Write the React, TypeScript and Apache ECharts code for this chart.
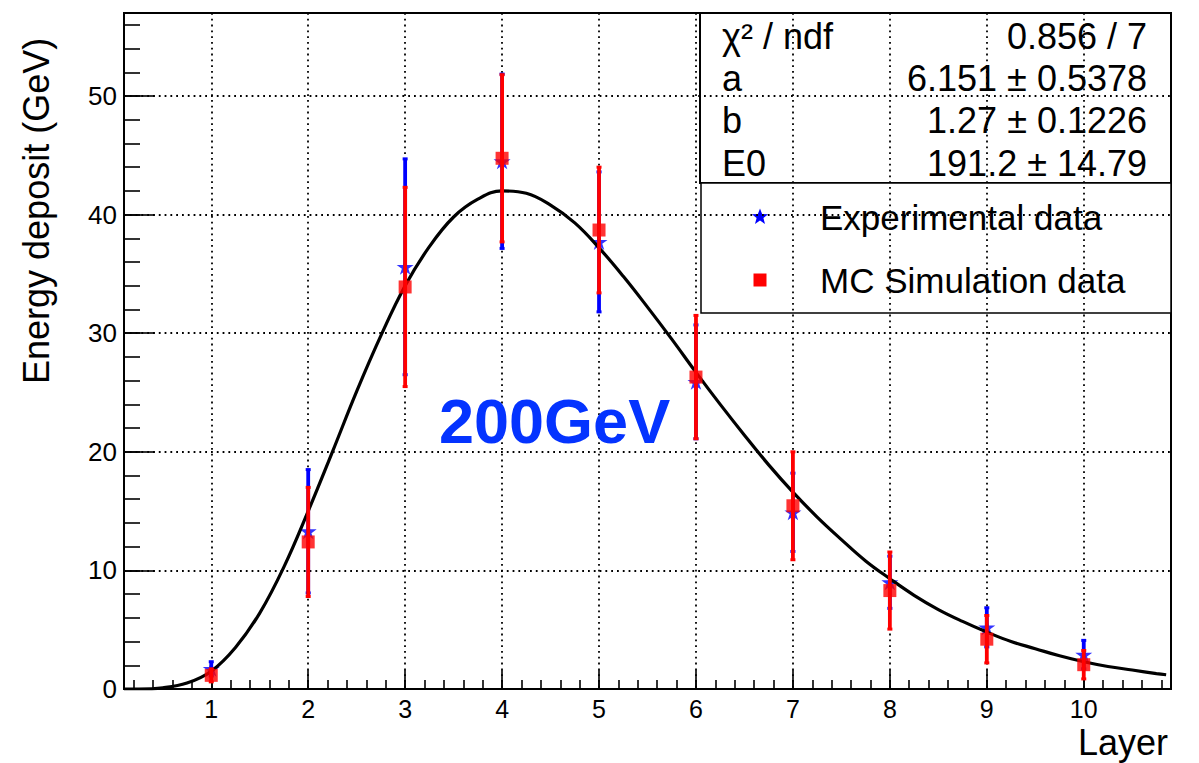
import React, { useEffect, useRef } from 'react';
import * as echarts from 'echarts';

// ---- data ----
const layers = [1, 2, 3, 4, 5, 6, 7, 8, 9, 10];
const expValues = [1.7, 13.3, 35.6, 44.5, 37.7, 25.9, 14.9, 9.0, 5.2, 2.9];
const expErrors = [0.6, 5.2, 9.1, 7.35, 5.9, 4.8, 3.3, 2.2, 1.65, 1.2];
const mcValues = [1.15, 12.4, 33.9, 44.75, 38.7, 26.3, 15.45, 8.3, 4.2, 2.05];
const mcErrors = [0.55, 4.6, 8.4, 7.05, 5.3, 5.2, 4.55, 3.25, 2.0, 1.2];

// fit curve
const fitX = [0.1, 0.25, 0.5, 0.75, 1, 1.25, 1.5, 1.75, 2, 2.25, 2.5, 2.75, 3, 3.25, 3.5, 3.75, 4, 4.25, 4.5, 4.75, 5, 5.25, 5.5, 5.75, 6, 6.25, 6.5, 6.75, 7, 7.25, 7.5, 7.75, 8, 8.25, 8.5, 8.75, 9, 9.25, 9.5, 9.75, 10, 10.25, 10.5, 10.75, 10.85];
const fitY = [0.0, 0.0, 0.1, 0.5, 1.5, 3.5, 6.4, 10.3, 15.0, 20.0, 25.1, 29.8, 34.0, 37.3, 39.8, 41.3, 42.0, 41.8, 40.8, 39.3, 37.2, 34.8, 32.2, 29.5, 26.7, 24.0, 21.4, 18.9, 16.6, 14.5, 12.6, 10.8, 9.3, 7.9, 6.7, 5.7, 4.8, 4.0, 3.4, 2.8, 2.3, 1.9, 1.6, 1.3, 1.2];

const xTickValues = [1, 2, 3, 4, 5, 6, 7, 8, 9, 10];
const yTickValues = [0, 10, 20, 30, 40, 50];
const xMinorStep = 0.2;
const yMinorStep = 2;

const statNames = ['χ² / ndf', 'a', 'b', 'E0'];
const statValues = ['0.856 / 7', '6.151 ± 0.5378', '1.27 ± 0.1226', '191.2 ± 14.79'];
const legendNames = ['Experimental data', 'MC Simulation data'];
const energyLabel = '200GeV';
const xTitle = 'Layer';
const yTitle = 'Energy deposit (GeV)';

const X_MIN = 0.1;
const X_MAX = 10.9;
const Y_MIN = 0;
const Y_MAX = 57;

const FONT = '"Liberation Sans", Arial, Helvetica, sans-serif';
const BLUE = '#0000ff';
const RED = '#ff0000';
const STAR = 'path://M50,0L61.2,34.5L97.6,34.5L68.2,55.9L79.4,90.5L50,69.1L20.6,90.5L31.8,55.9L2.4,34.5L38.8,34.5Z';

function minorValues(min: number, max: number, step: number) {
  const out: number[] = [];
  const start = Math.ceil(min / step - 1e-9);
  const end = Math.floor(max / step + 1e-9);
  for (let k = start; k <= end; k++) out.push(Math.round(k * step * 1000) / 1000);
  return out;
}

function starPoints(cx: number, cy: number, r: number, ri: number) {
  const pts: number[][] = [];
  for (let i = 0; i < 10; i++) {
    const rr = i % 2 === 0 ? r : ri;
    const a = -Math.PI / 2 + (i * Math.PI) / 5;
    pts.push([cx + rr * Math.cos(a), cy + rr * Math.sin(a)]);
  }
  return pts;
}

function errorBars(name: string, values: number[], errors: number[], color: string, z: number) {
  return {
    type: 'custom',
    name,
    z,
    silent: true,
    data: layers.map((l, i) => [l, values[i], errors[i]]),
    encode: { x: 0, y: 1 },
    renderItem: (params: any, api: any) => {
      const x = api.value(0);
      const y = api.value(1);
      const e = api.value(2);
      const top = api.coord([x, y + e]);
      const bot = api.coord([x, Math.max(y - e, Y_MIN)]);
      return {
        type: 'group',
        children: [
          { type: 'line', shape: { x1: top[0], y1: top[1], x2: bot[0], y2: bot[1] }, style: { stroke: color, lineWidth: 3.8 } },
          { type: 'rect', shape: { x: top[0] - 2.5, y: top[1] - 1.5, width: 5, height: 3 }, style: { fill: color } },
          { type: 'rect', shape: { x: bot[0] - 2.5, y: bot[1] - 1.5, width: 5, height: 3 }, style: { fill: color } },
        ],
      };
    },
  };
}

export default function App() {
  const ref = useRef<HTMLDivElement>(null);

  useEffect(() => {
    if (!ref.current) return;
    const chart = echarts.init(ref.current, null, { renderer: 'svg' });
    const tickLine = { color: '#000', width: 1.6 };
    const gridLine = { color: '#000', width: 1.8, type: [1.8, 4] as any };

    const statRows: any[] = [];
    const rowBaselines = [49, 91, 133, 176];
    statNames.forEach((n, i) => {
      statRows.push({
        type: 'text', x: 722, y: rowBaselines[i] - 12.8,
        style: { text: n, font: `36px ${FONT}`, fill: '#000', textAlign: 'left', textVerticalAlign: 'middle' },
      });
      statRows.push({
        type: 'text', x: 1147, y: rowBaselines[i] - 12.8,
        style: { text: statValues[i], font: `36px ${FONT}`, fill: '#000', textAlign: 'right', textVerticalAlign: 'middle' },
      });
    });

    const option: any = {
      animation: false,
      backgroundColor: '#fff',
      grid: {
        left: 124, top: 13, right: 28, bottom: 74,
        show: true, borderColor: '#000', borderWidth: 2, backgroundColor: 'transparent',
        outerBoundsMode: 'none',
      },
      xAxis: [
        {
          type: 'value', min: X_MIN, max: X_MAX, position: 'bottom',
          axisLine: { show: false },
          axisTick: { show: true, inside: true, length: 19, lineStyle: tickLine, customValues: xTickValues },
          axisLabel: { show: true, customValues: xTickValues, fontSize: 25, fontFamily: FONT, color: '#000', margin: 7 },
          splitLine: { show: true, lineStyle: gridLine },
          minorTick: { show: false },
        },
        {
          type: 'value', min: X_MIN, max: X_MAX, position: 'bottom',
          axisLine: { show: false },
          axisTick: { show: true, inside: true, length: 9, lineStyle: tickLine, customValues: minorValues(X_MIN, X_MAX, xMinorStep) },
          axisLabel: { show: false },
          splitLine: { show: false },
        },
      ],
      yAxis: [
        {
          type: 'value', min: Y_MIN, max: Y_MAX, position: 'left',
          axisLine: { show: false },
          axisTick: { show: true, inside: true, length: 31, lineStyle: tickLine, customValues: yTickValues },
          axisLabel: { show: true, customValues: yTickValues, fontSize: 26, fontFamily: FONT, color: '#000', margin: 7 },
          splitLine: { show: true, lineStyle: gridLine },
        },
        {
          type: 'value', min: Y_MIN, max: Y_MAX, position: 'left',
          axisLine: { show: false },
          axisTick: { show: true, inside: true, length: 16, lineStyle: tickLine, customValues: minorValues(Y_MIN, Y_MAX, yMinorStep) },
          axisLabel: { show: false },
          splitLine: { show: false },
        },
      ],
      series: [
        errorBars('Experimental data errors', expValues, expErrors, BLUE, 2),
        {
          type: 'scatter', name: legendNames[0], z: 3,
          data: layers.map((l, i) => [l, expValues[i]]),
          symbol: STAR, symbolSize: [17, 16],
          itemStyle: { color: BLUE },
        },
        {
          type: 'line', name: 'fit', z: 4,
          data: fitX.map((x, i) => [x, fitY[i]]),
          smooth: 0.4, showSymbol: false, symbol: 'none',
          lineStyle: { color: '#000', width: 3.2 },
          silent: true,
        },
        errorBars('MC Simulation data errors', mcValues, mcErrors, RED, 5),
        {
          type: 'scatter', name: legendNames[1], z: 6,
          data: layers.map((l, i) => [l, mcValues[i]]),
          symbol: 'rect', symbolSize: 13,
          itemStyle: { color: RED },
        },
      ],
      graphic: [
        {
          type: 'group', z: 100,
          children: [
            { type: 'rect', shape: { x: 700, y: 13, width: 471, height: 170 }, style: { fill: '#fff', stroke: '#000', lineWidth: 2 } },
            { type: 'rect', shape: { x: 701, y: 183, width: 470, height: 130 }, style: { fill: '#fff', stroke: '#000', lineWidth: 1.5 } },
            ...statRows,
            { type: 'polygon', shape: { points: starPoints(760, 217, 8.5, 3.6) }, style: { fill: BLUE } },
            { type: 'rect', shape: { x: 753.5, y: 273.5, width: 13, height: 13 }, style: { fill: RED } },
            {
              type: 'text', x: 820, y: 230 - 12.5,
              style: { text: legendNames[0], font: `35px ${FONT}`, fill: '#000', textAlign: 'left', textVerticalAlign: 'middle' },
            },
            {
              type: 'text', x: 820, y: 293 - 12.5,
              style: { text: legendNames[1], font: `35px ${FONT}`, fill: '#000', textAlign: 'left', textVerticalAlign: 'middle' },
            },
          ],
        },
        {
          type: 'text', x: 439, y: 443 - 22.5, z: 100,
          style: { text: energyLabel, font: `bold 63px ${FONT}`, fill: '#0433ff', textAlign: 'left', textVerticalAlign: 'middle' },
        },
        {
          type: 'text', x: 1168, y: 755 - 12.6, z: 100,
          style: { text: xTitle, font: `36px ${FONT}`, fill: '#000', textAlign: 'right', textVerticalAlign: 'middle' },
        },
        {
          type: 'text', x: 36.5, y: 384, rotation: Math.PI / 2, z: 100,
          style: { text: yTitle, font: `36px ${FONT}`, fill: '#000', textAlign: 'left', textVerticalAlign: 'middle' },
        },
      ],
    };
    chart.setOption(option);
    return () => chart.dispose();
  }, []);

  return (
    <div
      ref={ref}
      style={{ position: 'fixed', left: 0, top: 0, width: 1199, height: 763, background: '#fff' }}
    />
  );
}
